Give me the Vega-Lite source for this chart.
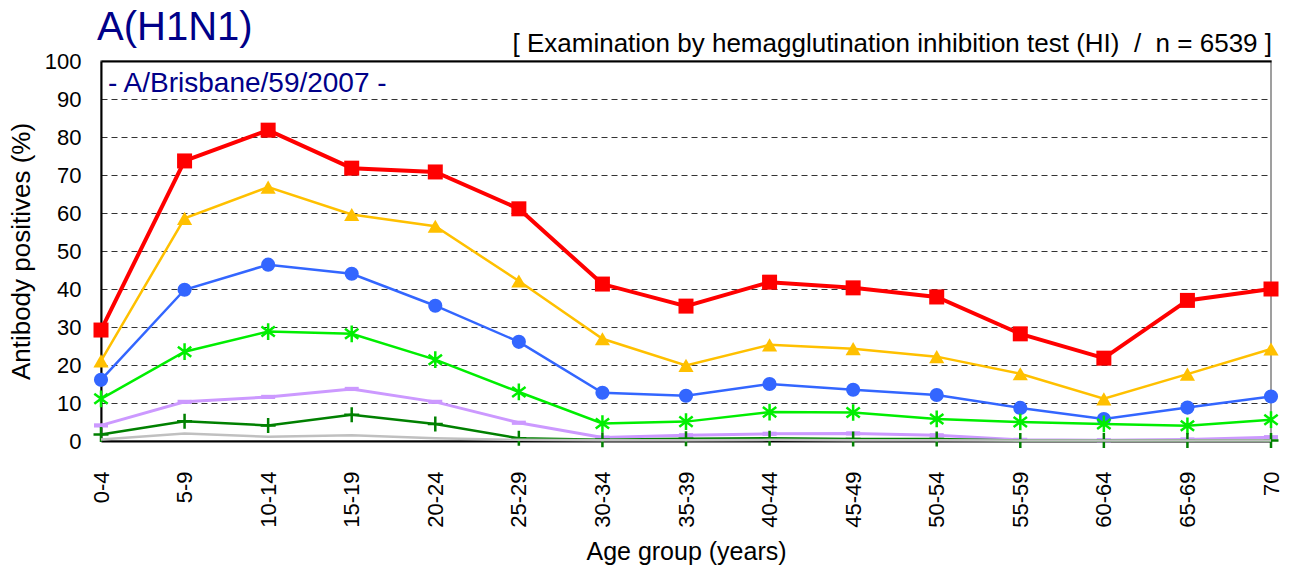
{
  "$schema": "https://vega.github.io/schema/vega-lite/v6.json",
  "width": 1170,
  "height": 380,
  "autosize": {"type": "none"},
  "padding": {"left": 101, "top": 61, "right": 19, "bottom": 131},
  "background": "white",
  "config": {"view": {"stroke": "#808080", "strokeWidth": 1.5}, "font": "Liberation Sans"},
  "datasets": {
    "rates": [
      {"age": "0-4", "s": "1:10", "value": 29.2}, {"age": "5-9", "s": "1:10", "value": 73.7}, {"age": "10-14", "s": "1:10", "value": 81.8}, {"age": "15-19", "s": "1:10", "value": 71.8}, {"age": "20-24", "s": "1:10", "value": 70.8}, {"age": "25-29", "s": "1:10", "value": 61.1}, {"age": "30-34", "s": "1:10", "value": 41.3}, {"age": "35-39", "s": "1:10", "value": 35.5}, {"age": "40-44", "s": "1:10", "value": 41.8}, {"age": "45-49", "s": "1:10", "value": 40.3}, {"age": "50-54", "s": "1:10", "value": 37.9}, {"age": "55-59", "s": "1:10", "value": 28.2}, {"age": "60-64", "s": "1:10", "value": 21.8}, {"age": "65-69", "s": "1:10", "value": 37.0}, {"age": "70", "s": "1:10", "value": 40.0},
      {"age": "0-4", "s": "1:20", "value": 21.1}, {"age": "5-9", "s": "1:20", "value": 58.6}, {"age": "10-14", "s": "1:20", "value": 66.8}, {"age": "15-19", "s": "1:20", "value": 59.6}, {"age": "20-24", "s": "1:20", "value": 56.5}, {"age": "25-29", "s": "1:20", "value": 42.1}, {"age": "30-34", "s": "1:20", "value": 26.9}, {"age": "35-39", "s": "1:20", "value": 19.9}, {"age": "40-44", "s": "1:20", "value": 25.3}, {"age": "45-49", "s": "1:20", "value": 24.3}, {"age": "50-54", "s": "1:20", "value": 22.2}, {"age": "55-59", "s": "1:20", "value": 17.7}, {"age": "60-64", "s": "1:20", "value": 11.1}, {"age": "65-69", "s": "1:20", "value": 17.6}, {"age": "70", "s": "1:20", "value": 24.2},
      {"age": "0-4", "s": "1:40", "value": 16.1}, {"age": "5-9", "s": "1:40", "value": 39.8}, {"age": "10-14", "s": "1:40", "value": 46.4}, {"age": "15-19", "s": "1:40", "value": 44.0}, {"age": "20-24", "s": "1:40", "value": 35.6}, {"age": "25-29", "s": "1:40", "value": 26.1}, {"age": "30-34", "s": "1:40", "value": 12.7}, {"age": "35-39", "s": "1:40", "value": 11.9}, {"age": "40-44", "s": "1:40", "value": 15.0}, {"age": "45-49", "s": "1:40", "value": 13.5}, {"age": "50-54", "s": "1:40", "value": 12.1}, {"age": "55-59", "s": "1:40", "value": 8.7}, {"age": "60-64", "s": "1:40", "value": 5.8}, {"age": "65-69", "s": "1:40", "value": 8.8}, {"age": "70", "s": "1:40", "value": 11.7},
      {"age": "0-4", "s": "1:80", "value": 11.1}, {"age": "5-9", "s": "1:80", "value": 23.5}, {"age": "10-14", "s": "1:80", "value": 28.8}, {"age": "15-19", "s": "1:80", "value": 28.2}, {"age": "20-24", "s": "1:80", "value": 21.4}, {"age": "25-29", "s": "1:80", "value": 12.9}, {"age": "30-34", "s": "1:80", "value": 4.6}, {"age": "35-39", "s": "1:80", "value": 5.1}, {"age": "40-44", "s": "1:80", "value": 7.6}, {"age": "45-49", "s": "1:80", "value": 7.5}, {"age": "50-54", "s": "1:80", "value": 5.8}, {"age": "55-59", "s": "1:80", "value": 5.0}, {"age": "60-64", "s": "1:80", "value": 4.5}, {"age": "65-69", "s": "1:80", "value": 4.0}, {"age": "70", "s": "1:80", "value": 5.6},
      {"age": "0-4", "s": "1:160", "value": 4.1}, {"age": "5-9", "s": "1:160", "value": 10.3}, {"age": "10-14", "s": "1:160", "value": 11.6}, {"age": "15-19", "s": "1:160", "value": 13.7}, {"age": "20-24", "s": "1:160", "value": 10.3}, {"age": "25-29", "s": "1:160", "value": 4.8}, {"age": "30-34", "s": "1:160", "value": 0.9}, {"age": "35-39", "s": "1:160", "value": 1.5}, {"age": "40-44", "s": "1:160", "value": 1.9}, {"age": "45-49", "s": "1:160", "value": 2.0}, {"age": "50-54", "s": "1:160", "value": 1.5}, {"age": "55-59", "s": "1:160", "value": 0.3}, {"age": "60-64", "s": "1:160", "value": 0.2}, {"age": "65-69", "s": "1:160", "value": 0.4}, {"age": "70", "s": "1:160", "value": 1.0},
      {"age": "0-4", "s": "1:320", "value": 1.7}, {"age": "5-9", "s": "1:320", "value": 5.2}, {"age": "10-14", "s": "1:320", "value": 4.1}, {"age": "15-19", "s": "1:320", "value": 6.9}, {"age": "20-24", "s": "1:320", "value": 4.5}, {"age": "25-29", "s": "1:320", "value": 0.7}, {"age": "30-34", "s": "1:320", "value": 0.3}, {"age": "35-39", "s": "1:320", "value": 0.6}, {"age": "40-44", "s": "1:320", "value": 0.7}, {"age": "45-49", "s": "1:320", "value": 0.5}, {"age": "50-54", "s": "1:320", "value": 0.5}, {"age": "55-59", "s": "1:320", "value": 0.1}, {"age": "60-64", "s": "1:320", "value": 0.1}, {"age": "65-69", "s": "1:320", "value": 0.1}, {"age": "70", "s": "1:320", "value": 0.1},
      {"age": "0-4", "s": "1:640", "value": 0.4}, {"age": "5-9", "s": "1:640", "value": 2.0}, {"age": "10-14", "s": "1:640", "value": 1.1}, {"age": "15-19", "s": "1:640", "value": 1.5}, {"age": "20-24", "s": "1:640", "value": 0.7}, {"age": "25-29", "s": "1:640", "value": 0.3}, {"age": "30-34", "s": "1:640", "value": 0.2}, {"age": "35-39", "s": "1:640", "value": 0.2}, {"age": "40-44", "s": "1:640", "value": 0.3}, {"age": "45-49", "s": "1:640", "value": 0.2}, {"age": "50-54", "s": "1:640", "value": 0.2}, {"age": "55-59", "s": "1:640", "value": 0.1}, {"age": "60-64", "s": "1:640", "value": 0.1}, {"age": "65-69", "s": "1:640", "value": 0.1}, {"age": "70", "s": "1:640", "value": 0.1}
    ],
    "notes": [
      {"id": "title", "note": "A(H1N1)"},
      {"id": "method", "note": "[ Examination by hemagglutination inhibition test (HI) \u00a0/\u00a0 n = 6539 ]"},
      {"id": "strain", "note": "- A/Brisbane/59/2007 -"}
    ]
  },
  "data": {"name": "rates"},
  "encoding": {
    "x": {"field": "age", "type": "ordinal",
      "scale": {"type": "point", "padding": 0, "domain": ["0-4","5-9","10-14","15-19","20-24","25-29","30-34","35-39","40-44","45-49","50-54","55-59","60-64","65-69","70"]},
      "axis": {"labelAngle": -90, "labelAlign": "right", "labelBaseline": "middle", "labelFontSize": 22, "labelColor": "black", "labelPadding": 30, "ticks": false, "domainColor": "black", "domainWidth": 2, "title": "Age group (years)", "titleFontSize": 25, "titleFontWeight": "normal", "titleColor": "black", "titlePadding": 12, "grid": false}},
    "y": {"field": "value", "type": "quantitative",
      "scale": {"domain": [0, 100], "nice": false},
      "axis": {"values": [0,10,20,30,40,50,60,70,80,90,100], "labelFontSize": 22, "labelColor": "black", "labelPadding": 20, "ticks": false, "domainColor": "black", "domainWidth": 2, "title": "Antibody positives (%)", "titleFontSize": 26, "titleFontWeight": "normal", "titleColor": "black", "titlePadding": 10,
        "grid": true,
        "gridColor": {"condition": {"test": "datum.value === 100", "value": "black"}, "value": "#333333"},
        "gridDash": {"condition": {"test": "datum.value === 100", "value": []}, "value": [6, 4]},
        "gridWidth": {"condition": {"test": "datum.value === 100", "value": 2}, "value": 1}}}
  },
  "layer": [
    {"transform": [{"filter": "datum.s === '1:10'"}], "mark": {"type": "line", "color": "#FF0000", "strokeWidth": 4, "point": {"shape": "square", "filled": true, "color": "#FF0000", "size": 225, "opacity": 1}}},
    {"transform": [{"filter": "datum.s === '1:20'"}], "mark": {"type": "line", "color": "#FFC000", "strokeWidth": 2.5, "point": {"shape": "triangle-up", "filled": true, "color": "#FFC000", "size": 230, "opacity": 1}}},
    {"transform": [{"filter": "datum.s === '1:40'"}], "mark": {"type": "line", "color": "#3366FF", "strokeWidth": 2.5, "point": {"shape": "circle", "filled": true, "color": "#3366FF", "size": 200, "opacity": 1}}},
    {"transform": [{"filter": "datum.s === '1:80'"}], "mark": {"type": "line", "color": "#00EE00", "strokeWidth": 2.5, "point": {"shape": "M0,-1L0,1M-0.8,-0.6L0.8,0.6M-0.8,0.6L0.8,-0.6", "filled": false, "color": "#00EE00", "strokeWidth": 2.5, "size": 280, "opacity": 1}}},
    {"transform": [{"filter": "datum.s === '1:160'"}], "mark": {"type": "line", "color": "#CC99FF", "strokeWidth": 3, "point": {"shape": "M-1,-0.3L1,-0.3L1,0.3L-1,0.3Z", "filled": true, "color": "#CC99FF", "size": 196, "opacity": 1}}},
    {"transform": [{"filter": "datum.s === '1:320'"}], "mark": {"type": "line", "color": "#008000", "strokeWidth": 2.5, "point": {"shape": "M0,-1L0,1M-1,0L1,0", "filled": false, "color": "#008000", "strokeWidth": 2.5, "size": 225, "opacity": 1}}},
    {"transform": [{"filter": "datum.s === '1:640'"}], "mark": {"type": "line", "color": "#C0C0C0", "strokeWidth": 2.5}},
    {"transform": [{"filter": "datum.s === '1:10' && datum.age === '0-4'"}],
     "mark": {"type": "text", "align": "left", "baseline": "alphabetic", "fontSize": 40, "color": "#000088", "dx": -4, "dy": -21},
     "encoding": {"y": {"datum": 100, "type": "quantitative"}, "text": {"value": "A(H1N1)"}}},
    {"transform": [{"filter": "datum.s === '1:10' && datum.age === '0-4'"}],
     "mark": {"type": "text", "align": "left", "baseline": "alphabetic", "fontSize": 28, "color": "#000088", "dx": 7, "dy": 31},
     "encoding": {"y": {"datum": 100, "type": "quantitative"}, "text": {"value": "- A/Brisbane/59/2007 -"}}},
    {"transform": [{"filter": "datum.s === '1:10' && datum.age === '70'"}],
     "mark": {"type": "text", "align": "right", "baseline": "alphabetic", "fontSize": 26, "color": "black", "dx": 1, "dy": -9},
     "encoding": {"y": {"datum": 100, "type": "quantitative"}, "text": {"value": "[ Examination by hemagglutination inhibition test (HI) \u00a0/\u00a0 n = 6539 ]"}}}
  ]
}
